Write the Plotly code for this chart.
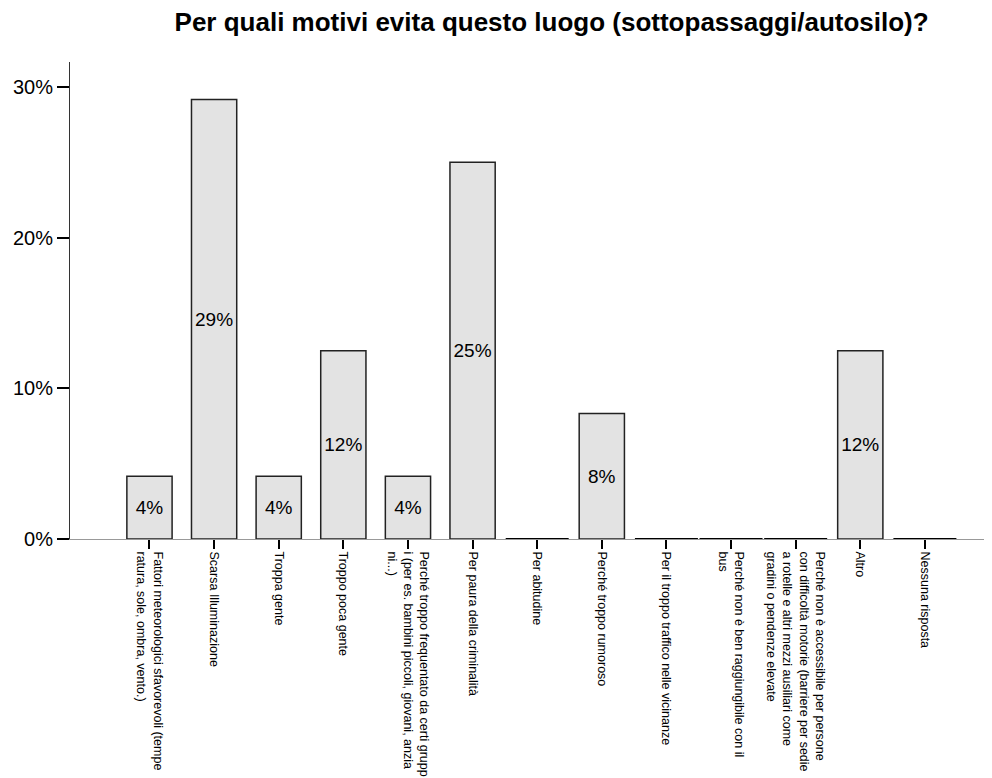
import plotly.graph_objects as go

# Risposte (percentuali sul totale)
categories = [
    "Fattori meteorologici sfavorevoli (tempe<br>ratura, sole, ombra, vento.)",
    "Scarsa Illuminazione",
    "Troppa gente",
    "Troppo poca gente",
    "Perché troppo frequentato da certi grupp<br>i (per es. bambini piccoli, giovani, anzia<br>ni...)",
    "Per paura della criminalità",
    "Per abitudine",
    "Perché troppo rumoroso",
    "Per il troppo traffico nelle vicinanze",
    "Perché non è ben raggiungibile con il<br>bus",
    "Perché non è accessibile per persone<br>con difficoltà motorie (barriere per sedie<br>a rotelle e altri mezzi ausiliari come<br>gradini o pendenze elevate",
    "Altro",
    "Nessuna risposta",
]
values = [4.17, 29.17, 4.17, 12.5, 4.17, 25.0, 0, 8.33, 0, 0, 0, 12.5, 0]
y_ticks = [0, 10, 20, 30]
y_tick_labels = ["0%", "10%", "20%", "30%"]

font = "Liberation Sans, Arial, sans-serif"

fig = go.Figure()

fig.add_trace(go.Bar(
    x=categories,
    y=values,
    width=0.7,
    marker=dict(color="#e3e3e3", line=dict(color="#222222", width=1.5)),
    text=[f"{v:.0f}%" if v else "" for v in values],
    textposition="inside",
    insidetextanchor="middle",
    textangle=0,
    constraintext="none",
    textfont=dict(family=font, size=19, color="black"),
    showlegend=False,
    hoverinfo="skip",
))

# zero-height bars drawn as flat segments on the baseline
zero_x = [c for c, v in zip(categories, values) if v == 0]
zero_y = [v for v in values if v == 0]
fig.add_trace(go.Scatter(
    x=zero_x,
    y=zero_y,
    mode="markers",
    marker=dict(symbol="line-ew", size=45, line=dict(color="black", width=2)),
    showlegend=False,
    hoverinfo="skip",
    cliponaxis=False,
))

fig.update_layout(
    width=992,
    height=778,
    margin=dict(l=62, r=15, t=54, b=247),
    plot_bgcolor="white",
    paper_bgcolor="white",
    title=dict(
        text="<b>Per quali motivi evita questo luogo (sottopassaggi/autosilo)?</b>",
        font=dict(family=font, size=26, color="black"),
        x=0.548, xanchor="center", xref="container",
        y=0.982, yanchor="middle",
    ),
    xaxis=dict(
        type="category",
        range=[-1.23, 12.93],
        automargin=False,
        showline=True, linecolor="#999999", linewidth=1,
        ticks="outside", ticklen=9, tickwidth=2, tickcolor="black",
        tickangle=90,
        tickfont=dict(family=font, size=12.5, color="black"),
        showgrid=False, zeroline=False,
    ),
    yaxis=dict(
        range=[0, 31.66],
        automargin=False,
        tickvals=y_ticks, ticktext=y_tick_labels,
        showline=True, linecolor="#333333", linewidth=1,
        ticks="outside", ticklen=12, tickwidth=2, tickcolor="black",
        tickfont=dict(family=font, size=20, color="black"),
        showgrid=False, zeroline=False,
    ),
)

fig.write_html("out.html")
